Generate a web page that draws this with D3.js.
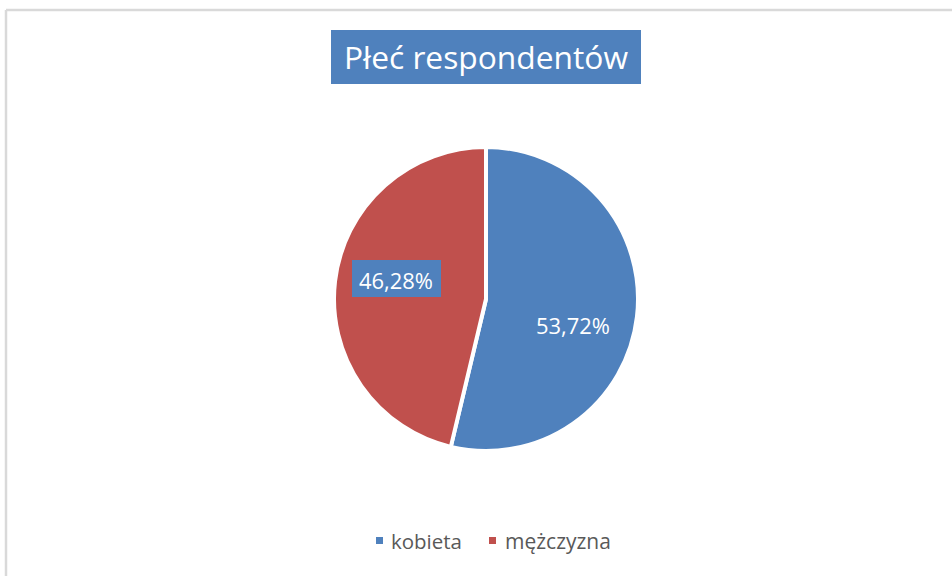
<!DOCTYPE html>
<html>
<head>
<meta charset="utf-8">
<script src="https://cdn.jsdelivr.net/npm/d3@7"></script>
<style>
html,body{margin:0;padding:0;background:#fff;}
svg{display:block;}
text{font-family:"Open Sans","Noto Sans",sans-serif;}
</style>
</head>
<body>
<svg id="chart" width="952" height="576"></svg>
<script>
const title = "Płeć respondentów";
const categories = ["kobieta", "mężczyzna"];
const values = [53.72, 46.28];
const labels = ["53,72%", "46,28%"];
const colors = ["#4F81BD", "#C0504D"];

const svg = d3.select("#chart");
const W = 952, H = 576;

// chart area border (left & top visible)
svg.append("line").attr("x1", 6).attr("y1", 10).attr("x2", 6).attr("y2", H).attr("stroke", "#d9d9d9").attr("stroke-width", 2.5);
svg.append("line").attr("x1", 6).attr("y1", 10).attr("x2", W).attr("y2", 10).attr("stroke", "#d9d9d9").attr("stroke-width", 2.5);

function fitText(sel, targetW, startSize) {
  sel.attr("font-size", startSize);
  const w = sel.node().getComputedTextLength();
  const s = startSize * targetW / w;
  sel.attr("font-size", s);
  return s;
}

// title
svg.append("rect").attr("x", 331).attr("y", 30).attr("width", 310).attr("height", 54).attr("fill", "#4F81BD");
const t = svg.append("text").attr("x", 486).attr("y", 69).attr("text-anchor", "middle").attr("fill", "#fff").text(title);
fitText(t, 284, 30);

// pie
const cx = 486, cy = 299, r = 152;
const pie = d3.pie().sort(null).value(d => d);
const arcs = pie(values);
const arc = d3.arc().innerRadius(0).outerRadius(r);
const g = svg.append("g").attr("transform", `translate(${cx},${cy})`);
g.selectAll("path").data(arcs).join("path")
  .attr("d", arc)
  .attr("fill", (d, i) => colors[i])
  .attr("stroke", "#fff").attr("stroke-width", 4).attr("stroke-linejoin", "round");

// data labels
const labelPos = [[573, 334], [396, 289]];
arcs.forEach((a, i) => {
  const [lx, ly] = labelPos[i];
  if (i === 1) {
    svg.append("rect").attr("x", 352).attr("y", 260).attr("width", 89).attr("height", 37).attr("fill", "#4F81BD");
  }
  const tx = svg.append("text").attr("x", lx).attr("y", ly).attr("text-anchor", "middle").attr("fill", "#fff").text(labels[i]);
  fitText(tx, 74, 20);
});

// legend
const legendItems = [
  {sx: 376, tx: 391, w: 71},
  {sx: 489, tx: 505, w: 106}
];
categories.forEach((c, i) => {
  svg.append("rect").attr("x", legendItems[i].sx).attr("y", 537).attr("width", 7).attr("height", 7).attr("fill", colors[i]);
  const lt = svg.append("text").attr("x", legendItems[i].tx).attr("y", 549).attr("fill", "#595959").text(c);
  fitText(lt, legendItems[i].w, 20);
});
</script>
</body>
</html>
